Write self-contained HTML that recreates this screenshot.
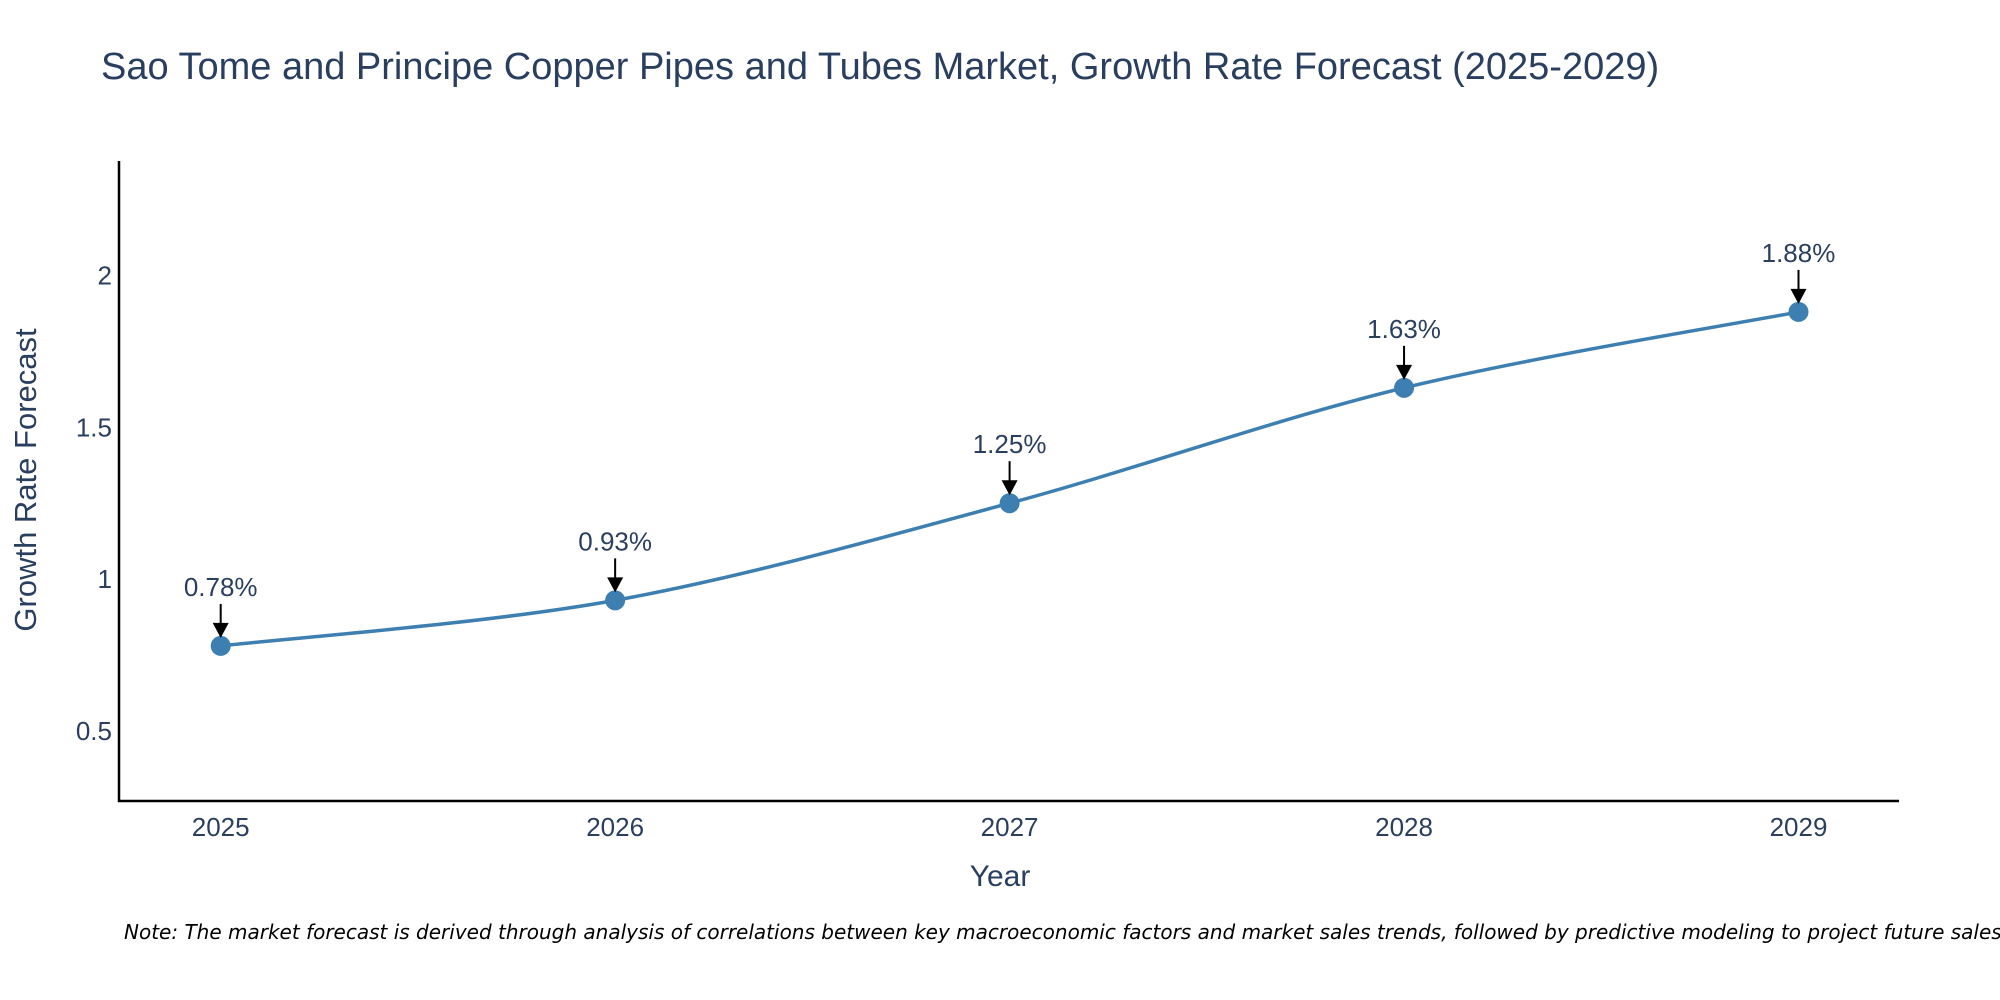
<!DOCTYPE html>
<html><head><meta charset="utf-8"><style>
html,body{margin:0;padding:0;background:#fff;overflow:hidden;}
svg{display:block;font-family:"Liberation Sans",sans-serif;}
</style></head><body>
<svg id="chart" width="2000" height="1000">
<text x="101" y="79" font-size="38" fill="#2a3f5f">Sao Tome and Principe Copper Pipes and Tubes Market, Growth Rate Forecast (2025-2029)</text>
<g id="axes"></g>
<g id="marks"></g>
<text x="1000" y="886" font-size="30" fill="#2a3f5f" text-anchor="middle">Year</text>
<text transform="translate(36,480) rotate(-90)" font-size="31" fill="#2a3f5f" text-anchor="middle">Growth Rate Forecast</text>
<text x="124" y="939" font-size="20" font-style="italic" fill="#000" font-family="DejaVu Sans, sans-serif">Note: The market forecast is derived through analysis of correlations between key macroeconomic factors and market sales trends, followed by predictive modeling to project future sales.</text>
</svg>
<script>
const years = [2025, 2026, 2027, 2028, 2029];
const values = [0.78, 0.93, 1.25, 1.63, 1.88];
const labels = ["0.78%", "0.93%", "1.25%", "1.63%", "1.88%"];
const yTicks = [0.5, 1, 1.5, 2];

const NS = "http://www.w3.org/2000/svg";
const xs = v => 220.7 + (v - 2025) * (1798.5 - 220.7) / 4;
const ys = v => 730.9 - (v - 0.5) * (730.9 - 275.5) / 1.5;
function mk(tag, attrs, parent) {
  const e = document.createElementNS(NS, tag);
  for (const k in attrs) e.setAttribute(k, attrs[k]);
  parent.appendChild(e);
  return e;
}
const axes = document.getElementById("axes");
const marks = document.getElementById("marks");

const yl = mk("line", {x1:119, y1:161, x2:119, y2:802, stroke:"#000", "stroke-width":2.5}, axes);


const xl = mk("line", {x1:118, y1:801, x2:1899, y2:801, stroke:"#000", "stroke-width":2.5}, axes);



yTicks.forEach(t => {
  const e = mk("text", {x:112, y:ys(t) + 9, "font-size":26, fill:"#2a3f5f", "text-anchor":"end"}, axes);
  e.textContent = String(t);
  
  
});
years.forEach(y => {
  const e = mk("text", {x:xs(y), y:836, "font-size":26, fill:"#2a3f5f", "text-anchor":"middle"}, axes);
  e.textContent = String(y);
  
  
});

const P = years.map((y, i) => [xs(y), ys(values[i])]);
let d = `M${P[0][0]},${P[0][1]}`;
const s = 0.33;
for (let i = 0; i < P.length - 1; i++) {
  const p0 = P[i - 1] || P[i], p1 = P[i], p2 = P[i + 1], p3 = P[i + 2] || P[i + 1];
  const c1 = [p1[0] + (p2[0] - p0[0]) * s / 2, p1[1] + (p2[1] - p0[1]) * s / 2];
  const c2 = [p2[0] - (p3[0] - p1[0]) * s / 2, p2[1] - (p3[1] - p1[1]) * s / 2];
  d += ` C${c1[0]},${c1[1]} ${c2[0]},${c2[1]} ${p2[0]},${p2[1]}`;
}
const line = mk("path", {d:d, fill:"none", stroke:"#3d7fb0", "stroke-width":3.5}, marks);



P.forEach((p, i) => {
  const c = mk("circle", {cx:p[0], cy:p[1], r:10, fill:"#3d7fb0"}, marks);
  
  
  const a = mk("line", {x1:p[0], y1:p[1] - 42, x2:p[0], y2:p[1] - 20, stroke:"#000", "stroke-width":2}, marks);
  
  
  const h = mk("polygon", {points:`${p[0]-8},${p[1]-23} ${p[0]+8},${p[1]-23} ${p[0]},${p[1]-8}`, fill:"#000"}, marks);
  
  
  const t = mk("text", {x:p[0], y:p[1] - 50, "font-size":26, fill:"#2a3f5f", "text-anchor":"middle"}, marks);
  t.textContent = labels[i];
  
  
});
</script>
</body></html>
